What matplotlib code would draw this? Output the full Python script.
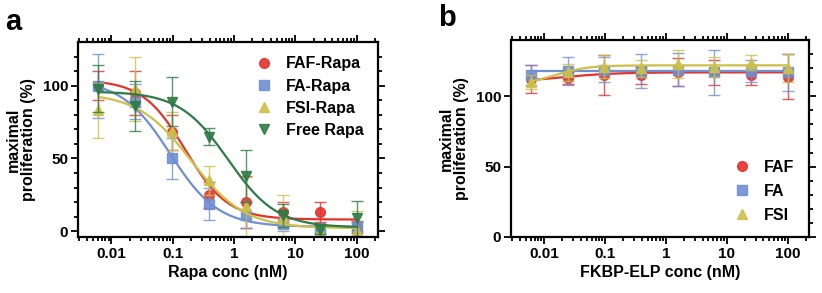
#Cell proliferation vs concentration, two panels (a: Rapa formulations, b: FKBP-ELP carriers)
import numpy as np
import matplotlib
matplotlib.use("Agg")
import matplotlib.pyplot as plt
from matplotlib.ticker import LogLocator, NullFormatter, FixedLocator

plt.rcParams['font.family'] = ['Liberation Sans', 'DejaVu Sans']
plt.rcParams['font.weight'] = 'bold'
plt.rcParams['axes.labelweight'] = 'bold'

#concentrations (nM), 4-fold dilutions
conc = [0.0061, 0.0244, 0.0977, 0.39, 1.56, 6.25, 25, 100]

#panel a data (mean, error)
faf_rapa = [100, 95, 68, 25, 20, 13, 13, 3]
faf_rapa_err = [10, 15, 12, 9, 18, 7, 7, 4]
fa_rapa = [100, 89, 50, 19, 11, 5, 2, 3]
fa_rapa_err = [22, 12, 14, 11, 9, 5, 3, 3]
fsi_rapa = [83, 98, 69, 35, 17, 10, 0, 0]
fsi_rapa_err = [19, 22, 13, 10, 20, 15, 4, 14]
free_rapa = [98, 86, 89, 65, 38, 11, 1, 9]
free_rapa_err = [16, 17, 17, 6, 18, 8, 3, 12]

#fit parameters (value at low conc, value at high conc, EC50, hill)
faf_rapa_fit = [104, 8, 0.16, 1.25]
fa_rapa_fit = [104, 3, 0.09, 1.1]
fsi_rapa_fit = [95, 2, 0.2, 1.0]
free_rapa_fit = [96, 2.5, 0.8, 1.1]

#panel b data
faf = [112, 113, 115, 115, 117, 117, 115, 114]
faf_err = [10, 4, 14, 6, 10, 9, 7, 16]
fa = [115, 118, 119, 118, 119, 117, 118, 117]
fa_err = [7, 10, 9, 12, 12, 16, 8, 13]
fsi = [110, 117, 121, 120, 123, 121, 124, 120]
fsi_err = [5, 6, 8, 6, 10, 7, 5, 10]

faf_fit = [110, 117, 0.02, 1.0]
fa_fit = [117.7, 117.7, 0.02, 1.0]
fsi_fit = [108, 122, 0.015, 1.6]

red = '#e5322b'
blue = '#6f8fd2'
yellow = '#cdc04a'
green = '#2e7b47'

def logistic(x, p):
    start, end, ec50, hill = p
    return end + (start - end) / (1 + (x / ec50) ** hill)

def style_axis(ax, ymax, ymin, left_minor):
    ax.set_xscale('log')
    ax.set_xlim(conc[0] / 10 ** 0.33, conc[-1] * 10 ** 0.35)
    ax.set_ylim(ymin, ymax)
    ax.set_xticks([0.01, 0.1, 1, 10, 100])
    ax.set_xticklabels(['0.01', '0.1', '1', '10', '100'])
    ax.xaxis.set_minor_locator(LogLocator(base=10, subs=np.arange(2, 10)))
    ax.xaxis.set_minor_formatter(NullFormatter())
    ax.set_yticks([0, 50, 100])
    ax.yaxis.set_minor_locator(FixedLocator(np.arange(10, ymax, 10)))
    for s in ax.spines.values():
        s.set_linewidth(1.6)
    ax.tick_params(which='both', direction='out', top=True, right=True, width=1.3,
                   labelsize=11, pad=2)
    ax.tick_params(which='major', length=5)
    ax.tick_params(which='minor', length=3)
    if not left_minor:
        ax.tick_params(axis='y', which='minor', left=False)
    for t in ax.get_xticklabels() + ax.get_yticklabels():
        t.set_fontweight('bold')

fig = plt.figure(figsize=(8.22, 2.93), dpi=100)

xs = np.logspace(np.log10(conc[0]), np.log10(conc[-1]), 300)

#panel a
ax1 = fig.add_axes([78/822, 56/293, 300/822, 195/293])
series_a = [(faf_rapa, faf_rapa_err, faf_rapa_fit, red, 'o', 'FAF-Rapa'),
            (fa_rapa, fa_rapa_err, fa_rapa_fit, blue, 's', 'FA-Rapa'),
            (fsi_rapa, fsi_rapa_err, fsi_rapa_fit, yellow, '^', 'FSI-Rapa'),
            (free_rapa, free_rapa_err, free_rapa_fit, green, 'v', 'Free Rapa')]
for y, e, p, c, m, lab in series_a:
    ax1.errorbar(conc, y, yerr=e, fmt='none', ecolor=c, elinewidth=1, capsize=4, alpha=0.8)
    ax1.plot(xs, logistic(xs, p), color=c, lw=1.6)
    ax1.plot(conc, y, m, color=c, ms=7, label=lab, alpha=0.9, lw=0)
style_axis(ax1, 130, -4, True)
ax1.set_xlabel('Rapa conc (nM)', fontsize=11.5, labelpad=3)
ax1.set_ylabel('maximal\nproliferation (%)', fontsize=11.5, labelpad=5, linespacing=1.0)
ax1.legend(loc='upper right', frameon=False, fontsize=11.5, handletextpad=0.9,
           borderaxespad=0.5, labelspacing=0.45, handlelength=1.0)
fig.text(5/822, 1 - 22/293, 'a', fontsize=21, fontweight='bold', va='center')

#panel b
ax2 = fig.add_axes([511/822, 56/293, 298/822, 197/293])
series_b = [(faf, faf_err, faf_fit, red, 'o', 'FAF'),
            (fa, fa_err, fa_fit, blue, 's', 'FA'),
            (fsi, fsi_err, fsi_fit, yellow, '^', 'FSI')]
for y, e, p, c, m, lab in series_b:
    ax2.errorbar(conc, y, yerr=e, fmt='none', ecolor=c, elinewidth=1, capsize=4, alpha=0.8)
    ax2.plot(xs, logistic(xs, p), color=c, lw=1.6)
    ax2.plot(conc, y, m, color=c, ms=7, label=lab, alpha=0.9, lw=0)
style_axis(ax2, 140, 0, False)
ax2.set_xlabel('FKBP-ELP conc (nM)', fontsize=11.5, labelpad=3)
ax2.set_ylabel('maximal\nproliferation (%)', fontsize=11.5, labelpad=5, linespacing=1.0)
ax2.legend(loc='lower right', frameon=False, fontsize=11.5, handletextpad=0.9,
           borderaxespad=0.5, labelspacing=0.55, handlelength=1.0)
fig.text(438/822, 1 - 18/293, 'b', fontsize=21, fontweight='bold', va='center')

fig.savefig('out.png', dpi=100)
